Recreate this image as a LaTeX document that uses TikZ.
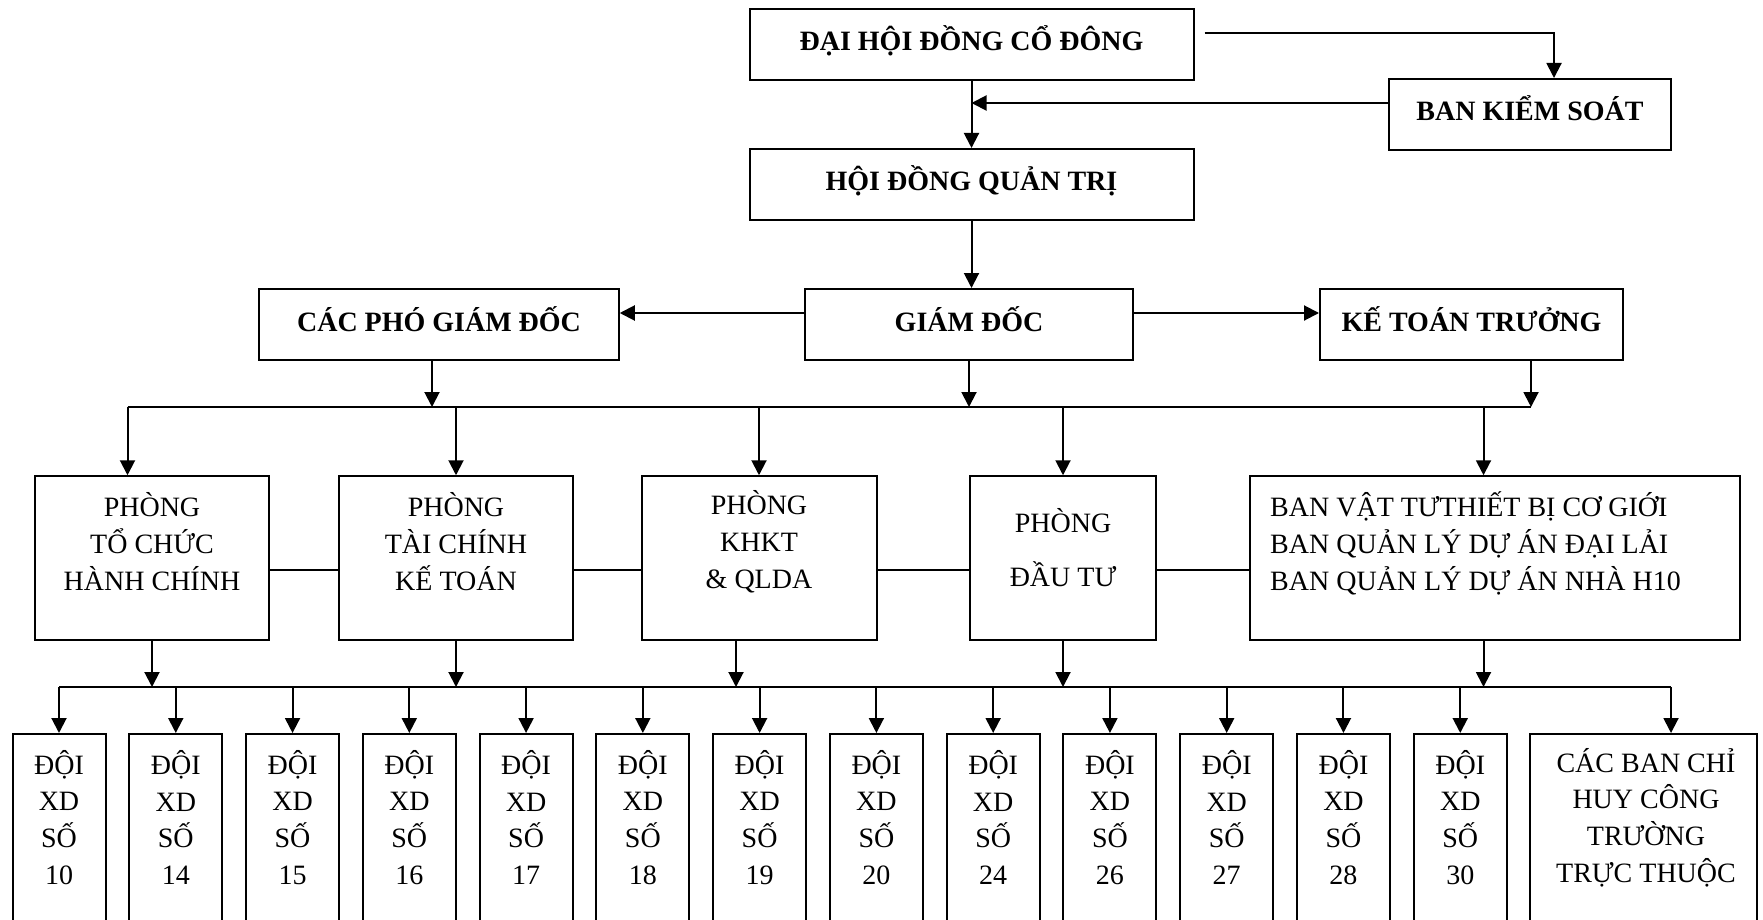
\documentclass[tikz,border=0pt]{standalone}
\usepackage{fontspec}
\setmainfont{Liberation Serif}
\usetikzlibrary{arrows.meta,calc}
\begin{document}
\begin{tikzpicture}[x=1pt,y=-1pt,
 box/.style={draw, line width=2pt, inner sep=0pt, align=center},
 ln/.style={line width=2pt},
 arr/.style={line width=2pt,-{Triangle[length=15pt,width=15pt]}},
 hd/.style={font=\fontsize{28}{34}\selectfont\bfseries, text height=21pt, text depth=8pt},
 tx/.style={font=\fontsize{28}{36.8}\selectfont, align=center, inner sep=0pt},
 txl/.style={font=\fontsize{28}{36.8}\selectfont, align=left, inner sep=0pt, anchor=west},
]
\useasboundingbox (0,0) rectangle (1763,920);
\clip (0,0) rectangle (1763,920);
\fill[white] (0,0) rectangle (1763,920);

% top level boxes
\node[box,hd,minimum width=444pt,minimum height=71pt] (dhdcd) at (971.5,44.5) {ĐẠI HỘI ĐỒNG CỔ ĐÔNG};
\node[box,hd,minimum width=282pt,minimum height=71pt] (bks) at (1530,114.5) {BAN KIỂM SOÁT};
\node[box,hd,minimum width=444pt,minimum height=71pt] (hdqt) at (971.5,184.5) {HỘI ĐỒNG QUẢN TRỊ};
\node[box,hd,minimum width=359.5pt,minimum height=71pt] (cpgd) at (439,324.5) {CÁC PHÓ GIÁM ĐỐC};
\node[box,hd,minimum width=328pt,minimum height=71pt] (gd) at (969,324.5) {GIÁM ĐỐC};
\node[box,hd,minimum width=303pt,minimum height=71pt] (ktt) at (1471.5,324.5) {KẾ TOÁN TRƯỞNG};

% second row
\node[box,minimum width=234pt,minimum height=163.5pt] (ptchc) at (152,558) {};
\node[box,minimum width=234pt,minimum height=163.5pt] (ptckt) at (456,558) {};
\node[box,minimum width=235pt,minimum height=163.5pt] (pkhkt) at (759,558) {};
\node[box,minimum width=186.5pt,minimum height=163.5pt] (pdt) at (1063,558) {};
\node[box,minimum width=490pt,minimum height=163.5pt] (bvt) at (1495,558) {};
\node[tx] (ptchct) at (152,541.5) {PHÒNG\\TỔ CHỨC\\HÀNH CHÍNH};
\node[tx] (ptckt-t) at (456,541.5) {PHÒNG\\TÀI CHÍNH\\KẾ TOÁN};
\node[tx] (pkhkt-t) at (759,541.5) {PHÒNG\\KHKT\\\& QLDA};
\node[tx,font=\fontsize{28}{54}\selectfont] (pdt-t) at (1063,548) {PHÒNG\\ĐẦU TƯ};
\node[txl] (bvt-t) at (1270,543.5) {BAN VẬT TƯTHIẾT BỊ CƠ GIỚI\\BAN QUẢN LÝ DỰ ÁN ĐẠI LẢI\\BAN QUẢN LÝ DỰ ÁN NHÀ H10};

% bottom row
\foreach \n [count=\i from 0] in {10,14,15,16,17,18,19,20,24,26,27,28,30}{
  \node[box,minimum width=93pt,minimum height=216pt] (d\i) at ({59+116.77*\i},842) {};
  \node[tx] (dt\i) at ({59+116.77*\i},817.5) {ĐỘI\\XD\\SỐ\\\n};
}
\node[box,minimum width=227pt,minimum height=216pt] (cbch) at (1643.5,842) {};
\node[tx] (cbch-t) at (1646,817.5) {CÁC BAN CHỈ\\HUY CÔNG\\TRƯỜNG\\TRỰC THUỘC};

% helper coordinates
\coordinate (busL) at (127.5,407);
\coordinate (busR) at (1531,407);
\coordinate (bbusL) at (d0.north |- 0,687);
\coordinate (bbusR) at ($(cbch.north |- 0,687)+(27.5,0)$);

% top connectors
\coordinate (dhA) at ($(dhdcd.east)+(10,-11.5)$);
\coordinate (bkN) at ($(bks.north)+(24,0)$);
\draw[arr] (dhA) -| (bkN);
\coordinate (bkA) at ($(bks.west)+(0,-11.5)$);
\draw[arr] (bkA) -- (bkA -| dhdcd.south);
\draw[arr] (dhdcd.south) -- (hdqt.north);
\draw[arr] (hdqt.south) -- (hdqt.south |- gd.north);
\coordinate (gdW) at ($(gd.west)+(0,-11.5)$);
\coordinate (gdE) at ($(gd.east)+(0,-11.5)$);
\draw[arr] (gdW) -- (gdW -| cpgd.east);
\draw[arr] (gdE) -- (gdE -| ktt.west);

% bus 1
\draw[ln] (busL) -- (busR);
\coordinate (cpS) at ($(cpgd.south)+(-7,0)$);
\draw[arr] (cpS) -- (cpS |- busL);
\draw[arr] (gd.south) -- (gd.south |- busL);
\coordinate (ktS) at ($(ktt.south)+(59.5,0)$);
\draw[arr] (ktS) -- (ktS |- busL);
\draw[arr] (busL) -- (busL |- ptchc.north);
\draw[arr] (ptckt.north |- busL) -- (ptckt.north);
\draw[arr] (pkhkt.north |- busL) -- (pkhkt.north);
\draw[arr] (pdt.north |- busL) -- (pdt.north);
\coordinate (bvN) at ($(bvt.north)+(-11.5,0)$);
\draw[arr] (bvN |- busL) -- (bvN);

% row 2 links
\foreach \a/\b in {ptchc/ptckt,ptckt/pkhkt,pkhkt/pdt,pdt/bvt}{
  \draw[ln] ($(\a.east)+(0,12)$) -- ($(\b.west)+(0,12)$);
}

% bus 2
\draw[ln] (bbusL) -- (bbusR);
\draw[arr] (ptchc.south) -- (ptchc.south |- bbusL);
\draw[arr] (ptckt.south) -- (ptckt.south |- bbusL);
\coordinate (pkS) at ($(pkhkt.south)+(-23,0)$);
\draw[arr] (pkS) -- (pkS |- bbusL);
\draw[arr] (pdt.south) -- (pdt.south |- bbusL);
\coordinate (bvS) at ($(bvt.south)+(-11.5,0)$);
\draw[arr] (bvS) -- (bvS |- bbusL);
\foreach \i in {0,...,12}{
  \draw[arr] (d\i.north |- bbusL) -- (d\i.north);
}
\draw[arr] (bbusR) -- (bbusR |- cbch.north);
\end{tikzpicture}
\end{document}
